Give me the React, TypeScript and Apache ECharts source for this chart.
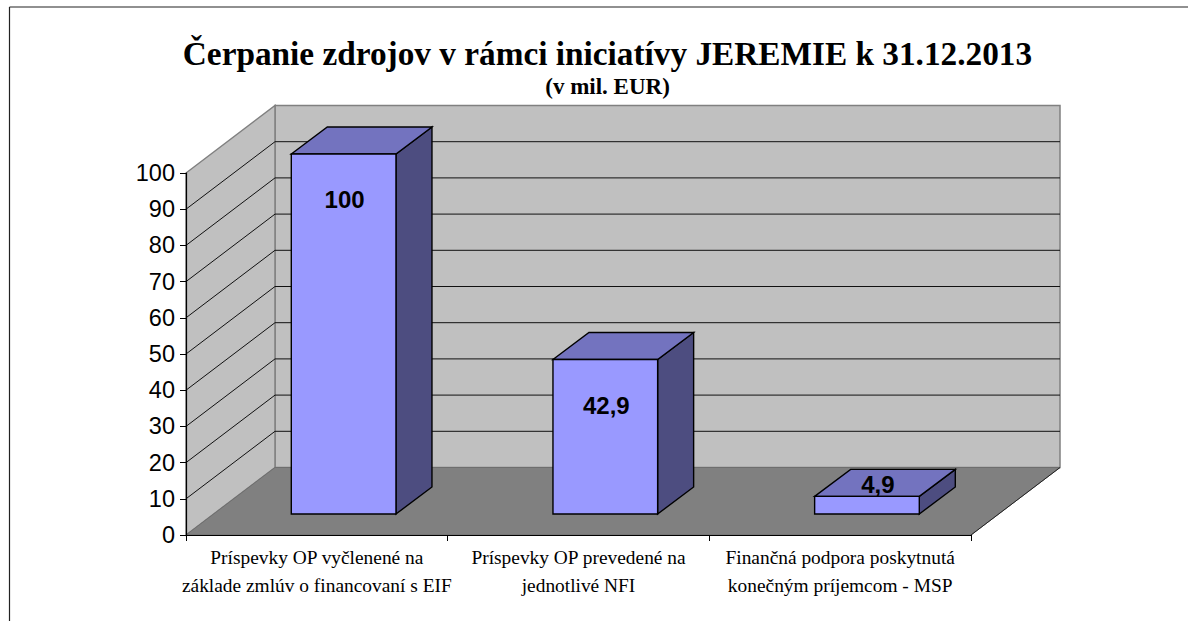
import React, { useEffect, useRef } from "react";
import * as echarts from "echarts";

const titleText = "Čerpanie zdrojov v rámci iniciatívy JEREMIE k 31.12.2013";
const subtitleText = "(v mil. EUR)";
const categories = [
  "Príspevky OP vyčlenené na\nzáklade zmlúv o financovaní s EIF",
  "Príspevky OP prevedené na\njednotlivé NFI",
  "Finančná podpora poskytnutá\nkonečným príjemcom - MSP",
];
const values = [100, 42.9, 4.9];
const valueLabels = ["100", "42,9", "4,9"];
const gridValues = [10, 20, 30, 40, 50, 60, 70, 80, 90];

const DEPTH_X = 89;
const DEPTH_Y = -67.5;
const BAR_SHIFT_X = 26.8;
const BAR_SHIFT_Y = -21;
const BAR_DEPTH_X = 36;
const BAR_DEPTH_Y = -27;
const BAR_PERSPECTIVE = 0.9945;

const App = () => {
  const ref = useRef<HTMLDivElement>(null);
  useEffect(() => {
    const chart = echarts.init(ref.current!, undefined, { renderer: "svg" });

    const poly = (points: number[][], fill: string, stroke: string, lineWidth: number) => ({
      type: "polygon",
      shape: { points },
      style: { fill, stroke, lineWidth },
    });
    const line = (a: number[], b: number[], stroke: string, lineWidth = 1) => ({
      type: "line",
      shape: { x1: a[0], y1: a[1], x2: b[0], y2: b[1] },
      style: { stroke, lineWidth },
    });

    const renderBackdrop = (_p: any, api: any) => {
      const band = api.size([1, 0])[0];
      const o = api.coord([0, 0]);
      const t = api.coord([0, 100]);
      const l = o[0] - band / 2;
      const r = l + band * 3;
      const y0 = o[1];
      const y1 = t[1];
      const wallGray = "#808080";
      return {
        type: "group",
        children: [
          poly(
            [[l + DEPTH_X, y1 + DEPTH_Y], [r + DEPTH_X, y1 + DEPTH_Y], [r + DEPTH_X, y0 + DEPTH_Y], [l + DEPTH_X, y0 + DEPTH_Y]],
            "#C0C0C0", wallGray, 1.5
          ),
          poly(
            [[l, y0], [l + DEPTH_X, y0 + DEPTH_Y], [l + DEPTH_X, y1 + DEPTH_Y], [l, y1]],
            "#C0C0C0", wallGray, 1.5
          ),
          poly(
            [[l, y0], [r, y0], [r + DEPTH_X, y0 + DEPTH_Y], [l + DEPTH_X, y0 + DEPTH_Y]],
            "#808080", "#6e6e6e", 1
          ),
          line([r, y0], [r + DEPTH_X, y0 + DEPTH_Y], "#222222", 1),
        ],
      };
    };

    const renderGrid = (_p: any, api: any) => {
      const band = api.size([1, 0])[0];
      const c = api.coord([0, api.value(1)]);
      const l = c[0] - band / 2;
      const r = l + band * 3;
      const y = c[1];
      return {
        type: "group",
        children: [
          line([l, y], [l + DEPTH_X, y + DEPTH_Y], "#111111", 1),
          line([l + DEPTH_X, y + DEPTH_Y], [r + DEPTH_X, y + DEPTH_Y], "#111111", 1),
        ],
      };
    };

    const renderBar = (p: any, api: any) => {
      const band = api.size([1, 0])[0];
      const base = api.coord([api.value(0), 0]);
      const top = api.coord([api.value(0), api.value(1)]);
      const w = band * 0.4;
      const x0 = base[0] - w / 2 + BAR_SHIFT_X;
      const x1 = x0 + w;
      const yb = base[1] + BAR_SHIFT_Y;
      const h = (base[1] - top[1]) * BAR_PERSPECTIVE;
      const yt = yb - h;
      const dx = BAR_DEPTH_X;
      const dy = BAR_DEPTH_Y;
      const tall = h > 100;
      const labelY = tall ? yt + 45.5 : yt - 12;
      const labelX = x0 + w / 2 + (tall ? 1 : 11);
      return {
        type: "group",
        children: [
          poly([[x1, yb], [x1 + dx, yb + dy], [x1 + dx, yt + dy], [x1, yt]], "#4D4D80", "#000000", 1.4),
          poly([[x0, yt], [x1, yt], [x1 + dx, yt + dy], [x0 + dx, yt + dy]], "#7373BF", "#000000", 1.4),
          poly([[x0, yb], [x1, yb], [x1, yt], [x0, yt]], "#9999FF", "#000000", 1.4),
          {
            type: "text",
            style: {
              x: labelX,
              y: labelY,
              text: valueLabels[p.dataIndex],
              fill: "#000000",
              font: 'bold 24px "Liberation Sans"',
              align: "center",
              verticalAlign: "middle",
            },
          },
        ],
      };
    };

    chart.setOption({
      animation: false,
      backgroundColor: "#ffffff",
      title: [
        {
          text: titleText,
          left: 602.5,
          top: 32,
          textAlign: "center",
          textStyle: { fontFamily: "Liberation Serif", fontWeight: "bold", fontSize: 33.3, color: "#000" },
        },
        {
          text: subtitleText,
          left: 602.5,
          top: 70,
          textAlign: "center",
          textStyle: { fontFamily: "Liberation Serif", fontWeight: "bold", fontSize: 23, color: "#000" },
        },
      ],
      grid: { left: 186, right: 217, top: 173, bottom: 86 },
      xAxis: {
        type: "category",
        data: categories,
        axisLine: { show: true, lineStyle: { color: "#000", width: 1.2 } },
        axisTick: { show: true, length: 6, lineStyle: { color: "#000" } },
        axisLabel: {
          interval: 0,
          margin: 8,
          fontFamily: "Liberation Serif",
          fontSize: 19.4,
          lineHeight: 28,
          color: "#000",
        },
        z: 5,
      },
      yAxis: {
        type: "value",
        min: 0,
        max: 100,
        interval: 10,
        splitLine: { show: false },
        axisLine: { show: true, lineStyle: { color: "#000", width: 1.2 } },
        axisTick: { show: true, length: 6, lineStyle: { color: "#000" } },
        axisLabel: { margin: 11, padding: [2, 0, 0, 0], fontFamily: "Liberation Sans", fontSize: 23.5, color: "#000" },
        z: 5,
      },
      series: [
        { type: "custom", z: 1, clip: false, renderItem: renderBackdrop, data: [[0, 0]], encode: { x: 0, y: 1 }, silent: true },
        { type: "custom", z: 2, clip: false, renderItem: renderGrid, data: gridValues.map((v) => [0, v]), encode: { x: 0, y: 1 }, silent: true },
        { type: "custom", z: 3, clip: false, renderItem: renderBar, data: values.map((v, i) => [i, v]), encode: { x: 0, y: 1 }, silent: true },
      ],
      graphic: [
        { type: "line", shape: { x1: 9.5, y1: 7, x2: 1188, y2: 7 }, style: { stroke: "#222", lineWidth: 1.2 } },
        { type: "line", shape: { x1: 9.5, y1: 7, x2: 9.5, y2: 621 }, style: { stroke: "#222", lineWidth: 1.2 } },
      ],
    });
    return () => chart.dispose();
  }, []);
  return <div ref={ref} style={{ position: "fixed", left: 0, top: 0, width: 1188, height: 621 }} />;
};

export default App;
